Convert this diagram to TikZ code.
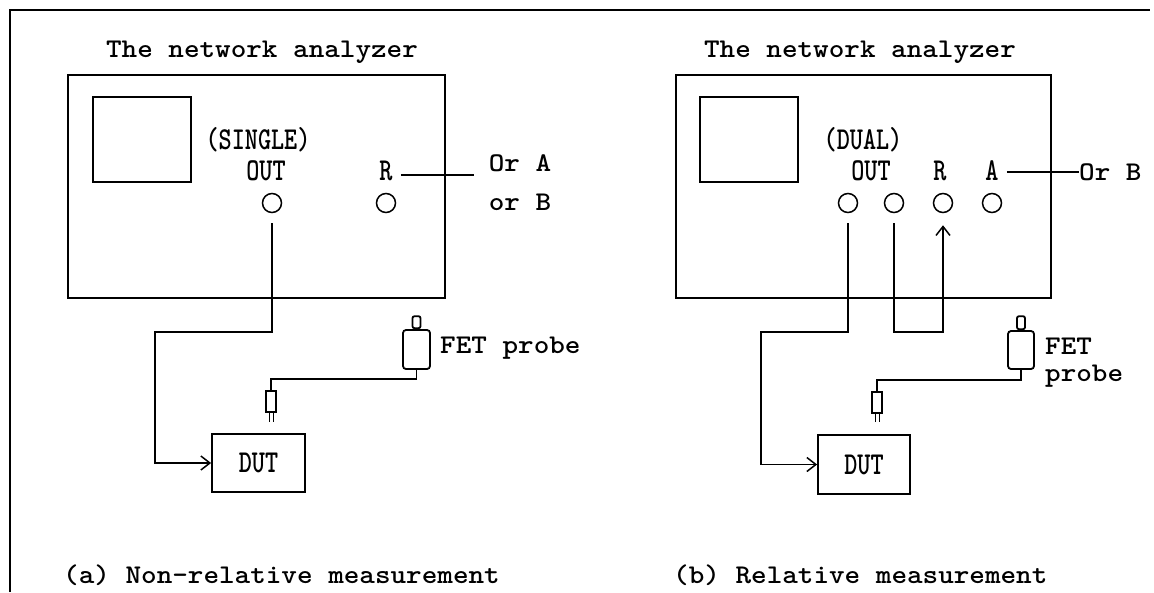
\documentclass[tikz,border=0pt]{standalone}
\usepackage{graphicx}
\usetikzlibrary{arrows.meta}
\newcommand{\twt}[1]{{\fontsize{27}{27}\selectfont\ttfamily\bfseries\scalebox{1.1}[1]{#1}}}
\newcommand{\lbt}[1]{{\fontsize{29}{29}\selectfont\ttfamily\bfseries\scalebox{0.86}[1.1]{#1}}}
\tikzset{
  box/.style={draw, line width=1.8pt, rectangle, inner sep=0pt},
  port/.style={draw, circle, line width=1.5pt, minimum size=19pt, inner sep=0pt},
  txt/.style={inner sep=0pt},
  cable/.style={line width=1.8pt},
  arr/.style={-{Straight Barb[length=9pt,width=14pt,line width=1.5pt]}},
  prong/.style={line width=1pt},
}
\begin{document}
\begin{tikzpicture}[x=1pt,y=-1pt]
\useasboundingbox (0,0) rectangle (1154,592);
% frame
\coordinate (fbl) at (10,592);
\coordinate (ftl) at (10,10);
\coordinate (ftr) at (1150,10);
\draw[line width=1.8pt] (fbl) -- (ftl) -- (ftr);

% ===== left panel =====
\node[txt] (t1) at (262,52) {\twt{The network analyzer}};
\node[box, minimum width=377pt, minimum height=223pt] (na1) at (256.5,186.5) {};
\node[box, minimum width=98pt, minimum height=85pt] (sc1) at (142,139.5) {};
\node[txt] (single) at (258,140) {\lbt{(SINGLE)}};
\node[txt] (out1) at (266,171) {\lbt{OUT}};
\node[txt] (r1) at (386,171) {\lbt{R}};
\node[port] (c1) at (272,203) {};
\node[port] (c2) at (386,203) {};
\coordinate (r1e) at (474,175);
\draw[cable] ([xshift=8pt]r1.east |- r1e) -- (r1e);
\node[txt] (ora) at (520,163) {\twt{Or A}};
\node[txt] (orb) at (520,202) {\twt{or B}};
\node[box, minimum width=93pt, minimum height=58pt] (dut1) at (258.5,463) {\lbt{DUT}};
\coordinate (k1) at (155,332);
\draw[cable, arr, shorten <=10pt] (c1.south) |- (k1) |- (dut1.west);
% probe
\node[box, rounded corners=3pt, minimum width=27pt, minimum height=39pt] (p1) at (416.5,349.5) {};
\node[box, rounded corners=2pt, minimum width=8pt, minimum height=12pt, anchor=south] (tip1) at (p1.north) {};
\node[box, line width=1.4pt, minimum width=10pt, minimum height=21pt] (con1) at (271,401.5) {};
\coordinate (pc1) at (416.5,379);
\draw[cable] (p1.south) -- (pc1) -| (con1.north);
\coordinate (pr1a) at (269,412);
\coordinate (pr1b) at (273,412);
\draw[prong] (pr1a) -- ++(0,10);
\draw[prong] (pr1b) -- ++(0,10);
\node[txt, anchor=west] (fet1) at (440,348) {\twt{FET probe}};

% ===== right panel =====
\node[txt] (t2) at (860,52) {\twt{The network analyzer}};
\node[box, minimum width=375pt, minimum height=223pt] (na2) at (863.5,186.5) {};
\node[box, minimum width=98pt, minimum height=85pt] (sc2) at (749,139.5) {};
\node[txt] (dual) at (863,140) {\lbt{(DUAL)}};
\node[txt] (out2) at (871,171) {\lbt{OUT}};
\node[txt] (r2) at (940,171) {\lbt{R}};
\node[txt] (a2) at (992,171) {\lbt{A}};
\node[port] (d1) at (848,203) {};
\node[port] (d2) at (894,203) {};
\node[port] (d3) at (943,203) {};
\node[port] (d4) at (992,203) {};
\node[txt, anchor=west] (orb2) at (1079,172) {\twt{Or B}};
\draw[cable] ([xshift=8pt]a2.east |- orb2.west) -- (orb2.west);
\node[box, minimum width=92pt, minimum height=59pt] (dut2) at (864,464.5) {\lbt{DUT}};
\coordinate (k2) at (761,332);
\coordinate (k3) at (943,332);
\draw[cable, arr, shorten <=10pt] (d1.south) |- (k2) |- (dut2.west);
\draw[cable, arr, shorten <=10pt, shorten >=12pt] (d2.south) |- (k3) -- (d3.south);
% probe
\node[box, rounded corners=3pt, minimum width=26pt, minimum height=38pt] (p2) at (1021,350) {};
\node[box, rounded corners=2pt, minimum width=8pt, minimum height=13pt, anchor=south] (tip2) at (p2.north) {};
\node[box, line width=1.4pt, minimum width=10pt, minimum height=21pt] (con2) at (877,402.5) {};
\coordinate (pc2) at (1021,380);
\draw[cable] (p2.south) -- (pc2) -| (con2.north);
\coordinate (pr2a) at (875,413);
\coordinate (pr2b) at (879,413);
\draw[prong] (pr2a) -- ++(0,9);
\draw[prong] (pr2b) -- ++(0,9);
\node[txt, anchor=west, align=left, font=\fontsize{27}{27}\selectfont] (fet2) at (1045,363) {\twt{FET}\\\twt{probe}};

% captions
\node[txt, anchor=west] (cap1) at (63,575) {\twt{(a) Non-relative measurement}};
\node[txt, anchor=west] (cap2) at (673,575) {\twt{(b) Relative measurement}};
\end{tikzpicture}
\end{document}
